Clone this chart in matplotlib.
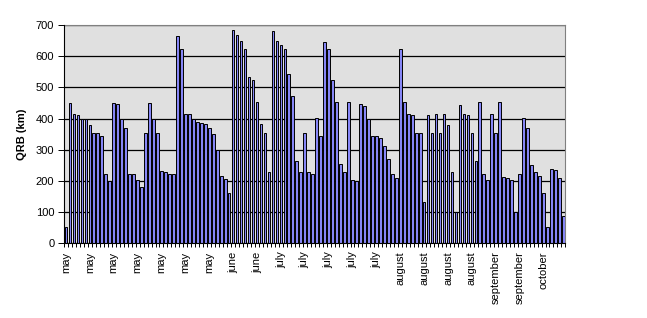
import numpy as np
import matplotlib
matplotlib.use("Agg")
import matplotlib.pyplot as plt

# QRB per contact (126 categories)
qrb_km = [
    52, 450, 415, 410, 400, 400, 380, 355, 355, 345,
    223, 200, 450, 448, 398, 369, 223, 223, 203, 181,
    355, 450, 400, 355, 233, 229, 223, 223, 665, 622,
    416, 416, 398, 390, 386, 383, 369, 352, 299, 217,
    206, 161, 685, 669, 648, 623, 535, 523, 452, 384,
    355, 229, 682, 648, 637, 623, 542, 471, 265, 229,
    355, 229, 223, 401, 345, 646, 622, 523, 452, 255,
    229, 452, 203, 200, 448, 442, 398, 345, 345, 339,
    313, 271, 223, 210, 622, 452, 416, 410, 355, 355,
    132, 410, 355, 416, 355, 416, 381, 229, 100, 445,
    416, 410, 355, 265, 452, 223, 203, 416, 355, 452,
    213, 210, 203, 100, 223, 401, 369, 252, 229, 216,
    161, 52, 239, 235, 210, 87,
]

# one label for every sixth category
month_labels = [
    "may", "may", "may", "may", "may", "may", "may",
    "june", "june",
    "july", "july", "july", "july", "july",
    "august", "august", "august", "august",
    "september", "september",
    "october",
]

plt.rcParams["font.family"] = ["Liberation Sans", "DejaVu Sans"]

fig = plt.figure(figsize=(6.47, 3.18), dpi=100)
ax = fig.add_axes([0.0989, 0.235, 0.775, 0.686])

x = np.arange(len(qrb_km))
ax.set_facecolor("#e0e0e0")
ax.bar(x, qrb_km, width=0.68, color="#8686f6", edgecolor="black", linewidth=0.7, zorder=3)

ax.set_xlim(-0.5, len(qrb_km) - 0.5)
ax.set_ylim(0, 700)
ax.set_yticks(range(0, 701, 100))
ax.yaxis.grid(True, color="black", linewidth=0.9, zorder=1)

ax.set_xticks(np.arange(0, len(qrb_km), 6))
ax.set_xticklabels(month_labels, rotation=90, fontsize=8)
ax.set_xticks(np.arange(len(qrb_km) + 1) - 0.5, minor=True)
ax.tick_params(axis="x", which="major", length=0, pad=6)
ax.tick_params(axis="x", which="minor", length=3, width=0.7, direction="out")
ax.tick_params(axis="y", length=4, width=0.7, labelsize=8, pad=3)

for side in ["top", "right"]:
    ax.spines[side].set_color("#808080")
    ax.spines[side].set_linewidth(0.8)
for side in ["left", "bottom"]:
    ax.spines[side].set_color("black")
    ax.spines[side].set_linewidth(0.8)
    ax.spines[side].set_zorder(4)

ax.set_ylabel("QRB (km)", fontsize=8, fontweight="bold", labelpad=6)

fig.savefig("out.png", dpi=100)
